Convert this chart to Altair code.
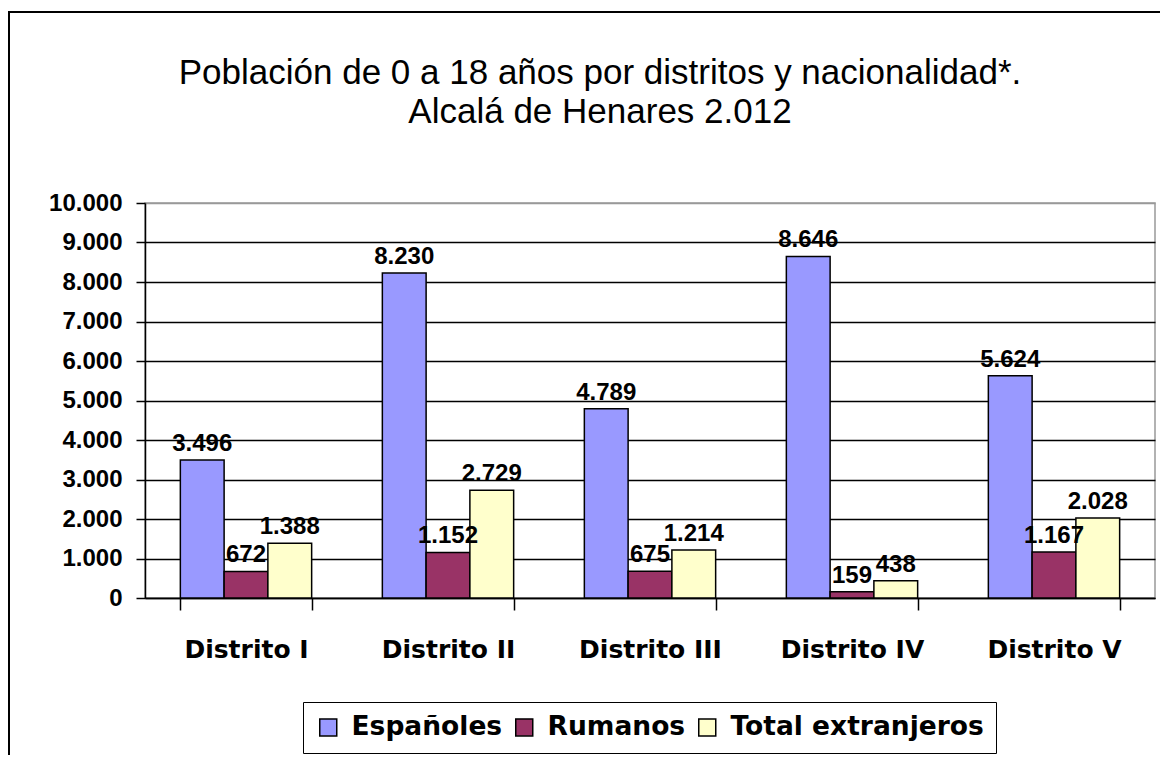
import altair as alt
import pandas as pd

distritos = ["Distrito I", "Distrito II", "Distrito III", "Distrito IV", "Distrito V"]
series = ["Españoles", "Rumanos", "Total extranjeros"]
espanoles = [3496, 8230, 4789, 8646, 5624]
rumanos = [672, 1152, 675, 159, 1167]
total_extranjeros = [1388, 2729, 1214, 438, 2028]
colors = ["#9999FF", "#993366", "#FFFFCC"]
y_ticks = list(range(0, 10001, 1000))
title_lines = ["Población de 0 a 18 años por distritos y nacionalidad*.", "Alcalá de Henares 2.012"]

rows = []
for s, vals in zip(series, [espanoles, rumanos, total_extranjeros]):
    for d, v in zip(distritos, vals):
        rows.append({"distrito": d, "serie": s, "valor": v,
                     "etiqueta": f"{v:,}".replace(",", ".")})
df = pd.DataFrame(rows)

x = alt.X("distrito:N", sort=distritos,
          scale=alt.Scale(paddingInner=0.35, paddingOuter=0.175),
          axis=alt.Axis(title=None, labelAngle=0, labelFont="DejaVu Sans",
                        labelFontWeight="bold", labelFontSize=25, labelColor="black",
                        tickBand="extent", tickSize=12, tickColor="black", tickWidth=1.5,
                        domainColor="black", domainWidth=1.5, labelPadding=27,
                        grid=False))
xoff = alt.XOffset("serie:N", sort=series, scale=alt.Scale(paddingInner=0, paddingOuter=0))
y = alt.Y("valor:Q", scale=alt.Scale(domain=[0, 10000], nice=False),
          axis=alt.Axis(title=None, values=y_ticks,
                        labelExpr="replace(format(datum.value, ','), ',', '.')",
                        labelFont="Liberation Sans", labelFontWeight="bold",
                        labelFontSize=24, labelColor="black", tickSize=9,
                        tickColor="black", tickWidth=1.5, domainColor="black",
                        domainWidth=1.5, labelPadding=14, grid=True,
                        gridColor={"condition": {"test": "datum.value >= 10000", "value": "#999999"},
                                   "value": "black"},
                        gridWidth=1.5))

color = alt.Color("serie:N", sort=series,
                  scale=alt.Scale(domain=series, range=colors),
                  legend=alt.Legend(title=None, orient="none", legendX=158, legendY=499,
                                    direction="horizontal", strokeColor="black",
                                    padding=12, labelFont="DejaVu Sans",
                                    labelFontWeight="bold", labelFontSize=26.5,
                                    labelColor="black", labelLimit=500,
                                    symbolType="square", symbolSize=289,
                                    symbolStrokeColor="black", symbolStrokeWidth=1.5,
                                    symbolOpacity=1, labelOffset=10, columnPadding=8))

base = alt.Chart(df)
bars = base.mark_bar(stroke="black", strokeWidth=1.5, opacity=1).encode(
    x=x, xOffset=xoff, y=y, color=color)
labels = base.mark_text(font="Liberation Sans", fontWeight="bold", fontSize=24,
                        dy=-9, baseline="alphabetic", color="black").encode(
    x=x, xOffset=xoff, y=y, text="etiqueta:N")

frame = alt.Chart(pd.DataFrame({"a": [0]})).mark_rect(
    fillOpacity=0, stroke="black", strokeWidth=2).encode(
    x=alt.value(-136), x2=alt.value(1100), y=alt.value(-191), y2=alt.value(800))

chart = alt.layer(bars, labels, frame).properties(
    width=1010, height=395,
    title=alt.TitleParams(text=title_lines, font="Liberation Sans", fontSize=35,
                          fontWeight="normal", color="black", anchor="middle",
                          dx=-50, lineHeight=39, offset=-119),
    autosize=alt.AutoSizeParams(type="none"),
    padding={"left": 137, "top": 195, "right": 5, "bottom": 157},
    background="white",
).configure_view(stroke="#999999", strokeWidth=1.5)

chart.save("out.html", embed_options={"renderer": "svg", "actions": False})
